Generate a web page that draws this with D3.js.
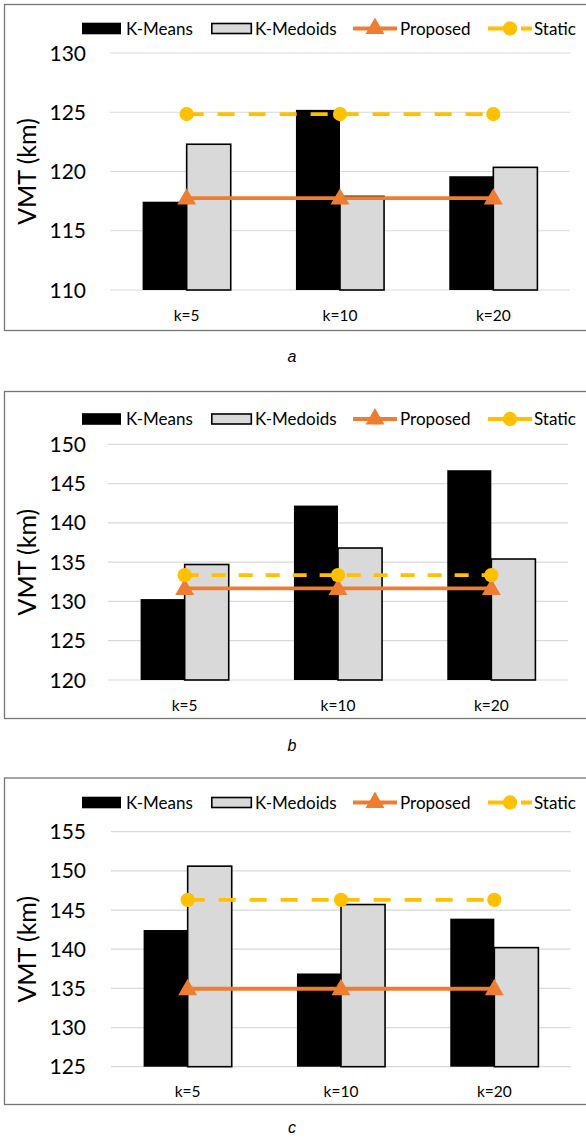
<!DOCTYPE html>
<html>
<head>
<meta charset="utf-8">
<script src="https://cdn.jsdelivr.net/npm/d3@7"></script>
<style>
  body { margin: 0; background: #fff; }
  text { font-family: Lato, "Open Sans", sans-serif; fill: #000; }
</style>
</head>
<body>
<div id="chart"></div>
<script>
// VMT comparison, three panels (a, b, c)

//data
var categories = ["k=5", "k=10", "k=20"];
var seriesNames = ["K-Means", "K-Medoids", "Proposed", "Static"];
var panelNames = ["a", "b", "c"];

var kMeans   = [[117.45, 125.2, 119.6], [130.3, 142.2, 146.7], [142.45, 136.9, 143.9]];
var kMedoids = [[122.3, 117.9, 120.35], [134.7, 136.8, 135.4], [150.6, 145.7, 140.2]];
var proposed = [[117.75, 117.75, 117.75], [131.65, 131.65, 131.65], [134.95, 134.95, 134.95]];
var staticV  = [[124.85, 124.85, 124.85], [133.35, 133.35, 133.35], [146.3, 146.3, 146.3]];

var yDomains = [[110, 130], [120, 150], [125, 155]];
var yTicks = [[110, 115, 120, 125, 130], [120, 125, 130, 135, 140, 145, 150], [125, 130, 135, 140, 145, 150, 155]];

// layout of each panel (pixels)
var layout = [
  {frameTop: 4.5, legendY: 28.5, plotTop: 53, plotBottom: 290, frameBottom: 330.5, captionY: 362, x0: 110, x1: 570},
  {frameTop: 391.5, legendY: 419, plotTop: 444.3, plotBottom: 680, frameBottom: 718.5, captionY: 751, x0: 108, x1: 568},
  {frameTop: 778, legendY: 802.5, plotTop: 831.7, plotBottom: 1066.7, frameBottom: 1104.5, captionY: 1133, x0: 111, x1: 571}
];

var W = 586, H = 1140;
var colMeans = "#000000", colMedoids = "#d9d9d9", colProp = "#ed7d31", colStatic = "#ffc000";

var svg = d3.select("#chart").append("svg")
    .attr("width", W)
    .attr("height", H);

var tri = d3.symbol().type(d3.symbolTriangle).size(115);
var circ = d3.symbol().type(d3.symbolCircle).size(160);

panelNames.forEach(function(name, p) {
  var L = layout[p];
  var g = svg.append("g");

  // frame
  g.append("rect")
    .attr("x", 4.5)
    .attr("y", L.frameTop)
    .attr("width", 600)
    .attr("height", L.frameBottom - L.frameTop)
    .attr("fill", "none")
    .attr("stroke", "#767676")
    .attr("stroke-width", 1.3);

  var x = d3.scaleBand()
    .domain(categories)
    .range([L.x0, L.x1]);

  // two bars of 44px inside a 153px band
  var x1 = d3.scaleBand()
    .domain(["K-Means", "K-Medoids"])
    .range([0, x.bandwidth()])
    .paddingOuter(0.74)
    .paddingInner(0);

  var y = d3.scaleLinear()
    .domain(yDomains[p])
    .range([L.plotBottom, L.plotTop]);

  // gridlines
  g.append("g").selectAll("line")
    .data(yTicks[p])
    .enter().append("line")
    .attr("x1", L.x0)
    .attr("x2", L.x1)
    .attr("y1", function(d) { return y(d); })
    .attr("y2", function(d) { return y(d); })
    .attr("stroke", "#d9d9d9")
    .attr("stroke-width", 1.2);

  // y axis labels
  g.append("g").selectAll("text")
    .data(yTicks[p])
    .enter().append("text")
    .text(function(d) { return d; })
    .attr("x", 86)
    .attr("y", function(d) { return y(d); })
    .attr("dy", "0.36em")
    .attr("text-anchor", "end")
    .style("font-size", "21px");

  g.append("text")
    .text("VMT (km)")
    .attr("transform", "translate(36," + ((L.plotTop + L.plotBottom) / 2) + ") rotate(-90)")
    .attr("text-anchor", "middle")
    .style("font-size", "25px");

  // category labels
  g.append("g").selectAll("text")
    .data(categories)
    .enter().append("text")
    .text(function(d) { return d; })
    .attr("x", function(d) { return x(d) + x.bandwidth() / 2; })
    .attr("y", L.plotBottom + 25)
    .attr("dy", "0.36em")
    .attr("text-anchor", "middle")
    .style("font-size", "15.5px");

  // bars
  var bars = categories.map(function(c, i) {
    return [{cat: c, s: "K-Means", v: kMeans[p][i]}, {cat: c, s: "K-Medoids", v: kMedoids[p][i]}];
  });
  bars = [].concat.apply([], bars);

  g.append("g").selectAll("rect")
    .data(bars)
    .enter().append("rect")
    .attr("x", function(d) { return x(d.cat) + x1(d.s); })
    .attr("y", function(d) { return y(d.v); })
    .attr("width", x1.bandwidth())
    .attr("height", function(d) { return y.range()[0] - y(d.v); })
    .attr("fill", function(d) { return d.s == "K-Means" ? colMeans : colMedoids; })
    .attr("stroke", "#000")
    .attr("stroke-width", function(d) { return d.s == "K-Means" ? 0 : 1.6; });

  var cx = function(d, i) { return x(categories[i]) + x.bandwidth() / 2; };

  // proposed line
  var line = d3.line()
    .x(function(d, i) { return cx(d, i); })
    .y(function(d) { return y(d); });

  g.append("path")
    .datum(proposed[p])
    .attr("d", line)
    .attr("fill", "none")
    .attr("stroke", colProp)
    .attr("stroke-width", 3.8);

  g.append("g").selectAll("path")
    .data(proposed[p])
    .enter().append("path")
    .attr("d", tri)
    .attr("transform", function(d, i) { return "translate(" + cx(d, i) + "," + (y(d) + 1) + ")"; })
    .attr("fill", colProp)
    .attr("stroke", colProp)
    .attr("stroke-width", 1.5);

  // static line
  g.append("path")
    .datum(staticV[p])
    .attr("d", line)
    .attr("fill", "none")
    .attr("stroke", colStatic)
    .attr("stroke-width", 3.8)
    .attr("stroke-dasharray", p == 1 ? "14,13" : "17,14");

  g.append("g").selectAll("path")
    .data(staticV[p])
    .enter().append("path")
    .attr("d", circ)
    .attr("transform", function(d, i) { return "translate(" + cx(d, i) + "," + y(d) + ")"; })
    .attr("fill", colStatic);

  // legend
  var lg = g.append("g").attr("transform", "translate(0," + L.legendY + ")");
  var legX = [82, 211, 353, 488];
  var textX = [126, 255, 400, 534];

  lg.append("rect").attr("x", legX[0]).attr("y", -5.8).attr("width", 39).attr("height", 11.6).attr("fill", colMeans);
  lg.append("rect").attr("x", legX[1] + 0.8).attr("y", -5).attr("width", 39.5).attr("height", 10)
    .attr("fill", colMedoids).attr("stroke", "#000").attr("stroke-width", 1.6);

  lg.append("line").attr("x1", legX[2]).attr("x2", legX[2] + 44).attr("y1", 0).attr("y2", 0)
    .attr("stroke", colProp).attr("stroke-width", 3.8);
  lg.append("path").attr("d", tri).attr("transform", "translate(" + (legX[2] + 22) + ",0)")
    .attr("fill", colProp).attr("stroke", colProp).attr("stroke-width", 1.5);

  lg.append("line").attr("x1", legX[3]).attr("x2", legX[3] + 44).attr("y1", 0).attr("y2", 0)
    .attr("stroke", colStatic).attr("stroke-width", 3.8)
    .attr("stroke-dasharray", p == 1 ? null : "20,13");
  lg.append("path").attr("d", circ).attr("transform", "translate(" + (legX[3] + 22) + ",0)")
    .attr("fill", colStatic);

  lg.selectAll(".legText")
    .data(seriesNames)
    .enter().append("text")
    .text(function(d) { return d; })
    .attr("x", function(d, i) { return textX[i]; })
    .attr("y", 0)
    .attr("dy", "0.36em")
    .style("font-size", "17px");

  // caption
  g.append("text")
    .text(name)
    .attr("x", 292)
    .attr("y", L.captionY)
    .attr("text-anchor", "middle")
    .style("font-family", "'Liberation Sans', Arial, sans-serif")
    .style("font-style", "italic")
    .style("font-size", "16px");
});
</script>
</body>
</html>
